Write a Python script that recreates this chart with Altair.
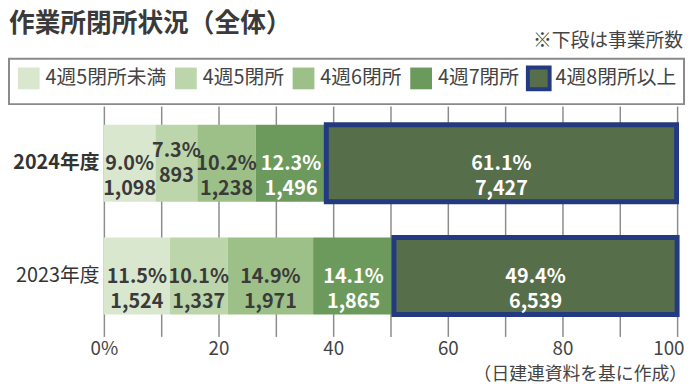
import altair as alt
import pandas as pd

# ---- data ----
years = ["2024年度", "2023年度"]
categories = ["4週5閉所未満", "4週5閉所", "4週6閉所", "4週7閉所", "4週8閉所以上"]
pct_2024 = [9.0, 7.3, 10.2, 12.3, 61.1]
cnt_2024 = [1098, 893, 1238, 1496, 7427]
pct_2023 = [11.5, 10.1, 14.9, 14.1, 49.4]
cnt_2023 = [1524, 1337, 1971, 1865, 6539]
x_ticks = [0, 10, 20, 30, 40, 50, 60, 70, 80, 90, 100]

title_text = "作業所閉所状況（全体）"
note_text = "※下段は事業所数"
source_text = "（日建連資料を基に作成）"

# ---- styles ----
FONT = "Noto Sans CJK JP"
fill_colors = ["#d9e7cf", "#bcd5aa", "#9dbf88", "#6c9a5c", "#566e4a"]
stroke_colors = ["transparent", "transparent", "transparent", "transparent", "#243a80"]

rows = []
for year, pcts, cnts in [(years[0], pct_2024, cnt_2024), (years[1], pct_2023, cnt_2023)]:
    for i, (cat, p, c) in enumerate(zip(categories, pcts, cnts)):
        rows.append({"year": year, "cat": cat, "order": i, "pct": p,
                     "label": f"{p:.1f}%\n{c:,}"})
df = pd.DataFrame(rows)

base = alt.Chart(df).transform_stack(
    stack="pct", groupby=["year"], sort=[alt.SortField("order")], as_=["x0", "x1"]
).transform_calculate(mid="(datum.x0 + datum.x1) / 2")

leg = alt.Legend(
    title=None, orient="none", legendX=-96, legendY=-48, direction="horizontal",
    symbolType="square", symbolSize=484, symbolStrokeWidth=4,
    labelFont=FONT, labelFontSize=20, labelColor="#444444", labelOffset=4,
    columnPadding=0, padding=7, strokeColor="#8a8a8a",
    labelLimit=300,
)

y_enc = alt.Y(
    "year:N", sort=years,
    scale=alt.Scale(paddingInner=0.316, paddingOuter=0.18, align=0.46),
    axis=alt.Axis(
        title=None, domain=False, ticks=False, labelPadding=5,
        labelFont=FONT, labelFontSize=20, labelColor="#333333",
        labelFontWeight=alt.condition("datum.value == '2024年度'", alt.value("bold"), alt.value("normal")),
    ),
)

bars = base.mark_bar().encode(
    x=alt.X(
        "x0:Q", scale=alt.Scale(domain=[0, 100], nice=False),
        axis=alt.Axis(
            values=x_ticks, title=None, domain=False, ticks=False,
            grid=True, gridColor="#8c8c8c", gridWidth=1.5,
            labelExpr="datum.value % 20 == 0 ? (datum.value == 0 ? '0%' : datum.label) : ''",
            labelFlush=False, labelOverlap=False, labelPadding=3,
            labelFont=FONT, labelFontSize=19, labelColor="#444444",
            labelAlign=alt.condition("datum.value == 100", alt.value("right"), alt.value("center")),
            labelOffset=alt.condition("datum.value == 100", alt.value(7), alt.value(0)),
        ),
    ),
    x2="x1:Q",
    y=y_enc,
    color=alt.Color("cat:N", sort=categories,
                    scale=alt.Scale(domain=categories, range=fill_colors), legend=leg),
    stroke=alt.Stroke("cat:N", sort=categories,
                      scale=alt.Scale(domain=categories, range=stroke_colors), legend=leg),
    strokeWidth=alt.condition("datum.cat == '4週8閉所以上'", alt.value(5), alt.value(0)),
)

text_enc = dict(
    x="mid:Q",
    y=alt.Y("year:N", sort=years),
    text="label:N",
    color=alt.condition("datum.order >= 3", alt.value("#ffffff"), alt.value("#3a3a3a")),
)

# regular segments: label centred; narrow segments (< 8%): label lifted to avoid neighbours
labels_wide = base.transform_filter("datum.pct >= 8").mark_text(
    lineBreak="\n", font=FONT, fontSize=20, fontWeight="bold",
    lineHeight=25, baseline="middle", align="center", dy=1,
).encode(**text_enc)

labels_narrow = base.transform_filter("datum.pct < 8").mark_text(
    lineBreak="\n", font=FONT, fontSize=20, fontWeight="bold",
    lineHeight=25, baseline="middle", align="center", dy=-12,
).encode(**text_enc)

title = alt.Chart(pd.DataFrame({"t": [title_text]})).mark_text(
    font=FONT, fontSize=26, fontWeight="bold", align="left", baseline="middle", color="#3a3a3a"
).encode(text="t:N", x=alt.value(-96), y=alt.value(-83))

note = alt.Chart(pd.DataFrame({"t": [note_text]})).mark_text(
    font=FONT, fontSize=19, align="right", baseline="middle", color="#444444"
).encode(text="t:N", x=alt.value(586), y=alt.value(-66))

source = alt.Chart(pd.DataFrame({"t": [source_text]})).mark_text(
    font=FONT, fontSize=18, align="right", baseline="middle", color="#444444"
).encode(text="t:N", x=alt.value(590), y=alt.value(272))

chart = alt.layer(bars, labels_wide, labels_narrow, title, note, source).properties(
    width=580, height=233,
    padding={"left": 97, "top": 97, "right": 10, "bottom": 52},
    autosize=alt.AutoSizeParams(type="none"),
    background="white",
).configure_view(stroke=None).configure_legend(strokeWidth=2)

chart.save("out.html", embed_options={"renderer": "svg", "actions": False})
